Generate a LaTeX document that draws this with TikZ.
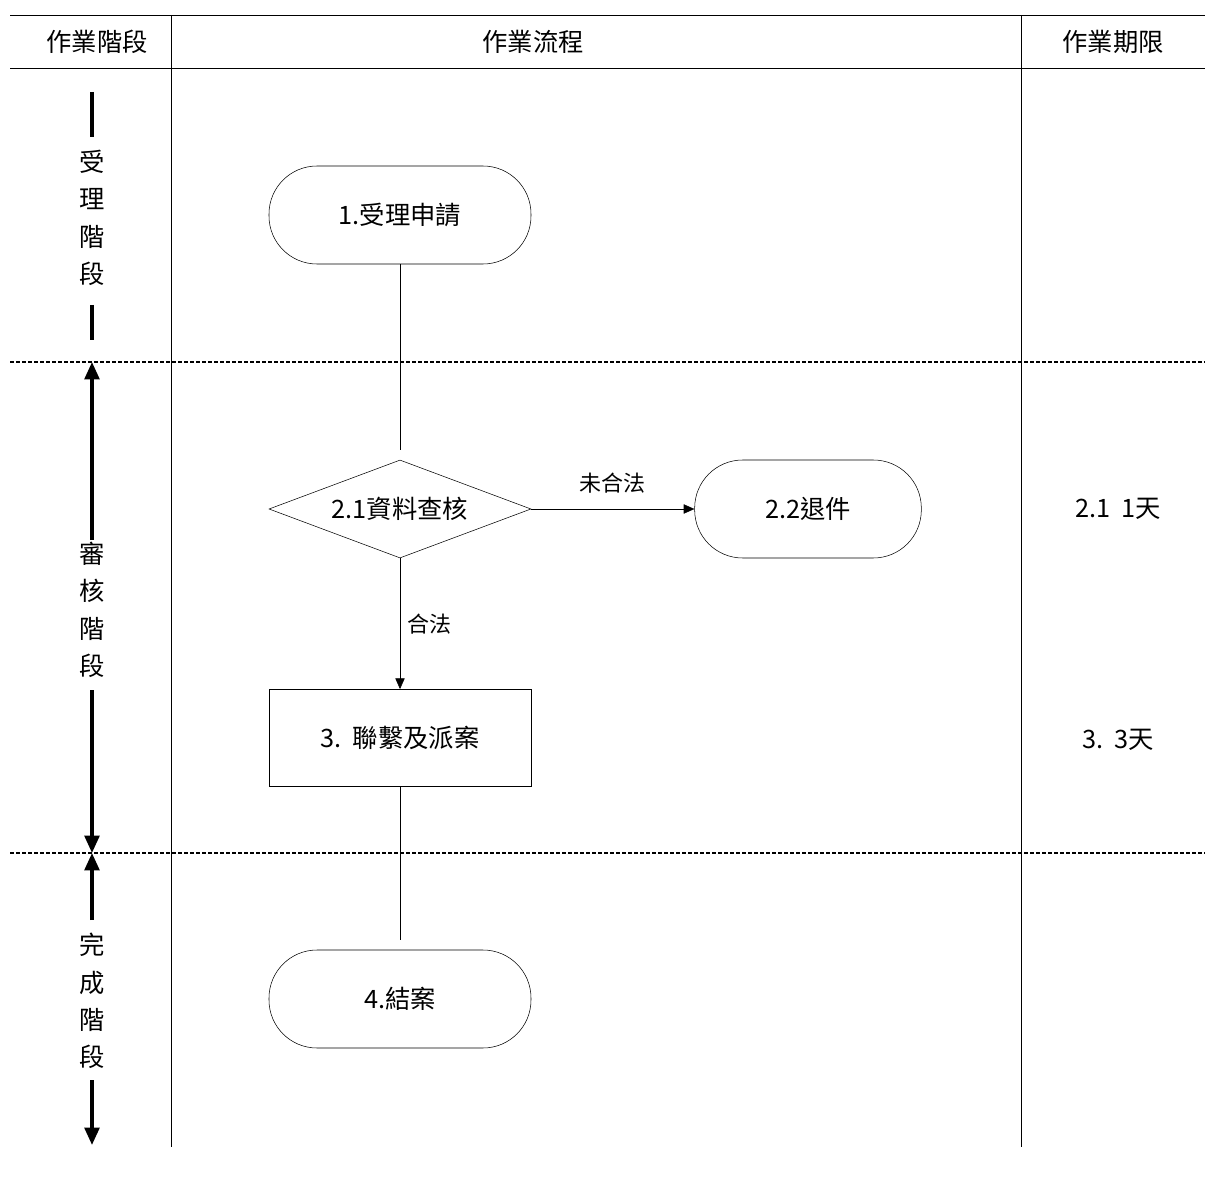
\documentclass[tikz,border=0pt]{standalone}
\usepackage{fontspec}
\setmainfont{Noto Sans CJK TC}
\usetikzlibrary{shapes.geometric,arrows.meta}
\begin{document}
\begin{tikzpicture}[x=0.75pt,y=-0.75pt,
  txt/.style={font=\fontsize{19}{22}\selectfont},
  stad/.style={draw,rounded corners=36pt,minimum width=196.5pt,minimum height=73.5pt,txt,inner sep=0pt},
  box/.style={draw,minimum width=196.5pt,minimum height=73pt,txt},
  dia/.style={draw,diamond,aspect=2.67,minimum width=196.5pt,minimum height=73.5pt,inner sep=0pt,txt},
  arr/.style={-{Triangle[length=8pt,width=7pt]}},
  thk/.style={line width=2.6pt},
  tarr/.style={thk,-{Triangle[length=13pt,width=11pt]}},
  dsh/.style={dashed,line width=1.4pt,dash pattern=on 3pt off 1.5pt},
  lbl/.style={font=\fontsize{16.5}{19}\selectfont}]
\useasboundingbox (0,0) rectangle (1228,1180);
% table
\draw (10,15) -- (1205,15);
\draw (10,68) -- (1205,68);
\draw (171,15) -- (171,1147);
\draw (1021,15) -- (1021,1147);
\node[txt] (h1) at (97,42) {作業階段};
\node[txt] (h2) at (533,42) {作業流程};
\node[txt] (h3) at (1113,42) {作業期限};
\draw[dsh] (10,362) -- (1205,362);
\draw[dsh] (10,853) -- (1205,853);
% left column
\draw[thk] (92,92) -- (92,137);
\node[txt,align=center] (s1) at (92,218) {受\\[6pt]理\\[6pt]階\\[6pt]段};
\draw[thk] (92,305) -- (92,340);
\draw[tarr] (92,540) -- (92,362);
\node[txt,align=center] (s2) at (92,610) {審\\[6pt]核\\[6pt]階\\[6pt]段};
\draw[tarr] (92,690) -- (92,853);
\draw[tarr] (92,920) -- (92,853);
\node[txt,align=center] (s3) at (92,1001) {完\\[6pt]成\\[6pt]階\\[6pt]段};
\draw[tarr] (92,1080) -- (92,1145);
% flow
\node[stad] (n1) at (400,215) {1.受理申請};
\node[dia] (n21) at (400,509) {2.1資料查核};
\node[stad,minimum width=170pt] (n22) at (808,509) {2.2退件};
\node[box] (n3) at (400,738) {3.\ \ 聯繫及派案};
\node[stad] (n4) at (400,999) {4.結案};
\coordinate (c1) at (400,450);
\coordinate (c2) at (400,940);
\draw (n1.south) -- (c1);
\draw[arr] (n21.east) -- node[lbl,above=8pt]{未合法} (n22.west);
\draw[arr] (n21.south) -- node[lbl,right=2pt,pos=0.5]{合法} (n3.north);
\draw (n3.south) -- (c2);
\node[txt] (t1) at (1118,509) {2.1\ \ 1天};
\node[txt] (t2) at (1118,740) {3.\ \ 3天};
\end{tikzpicture}
\end{document}
